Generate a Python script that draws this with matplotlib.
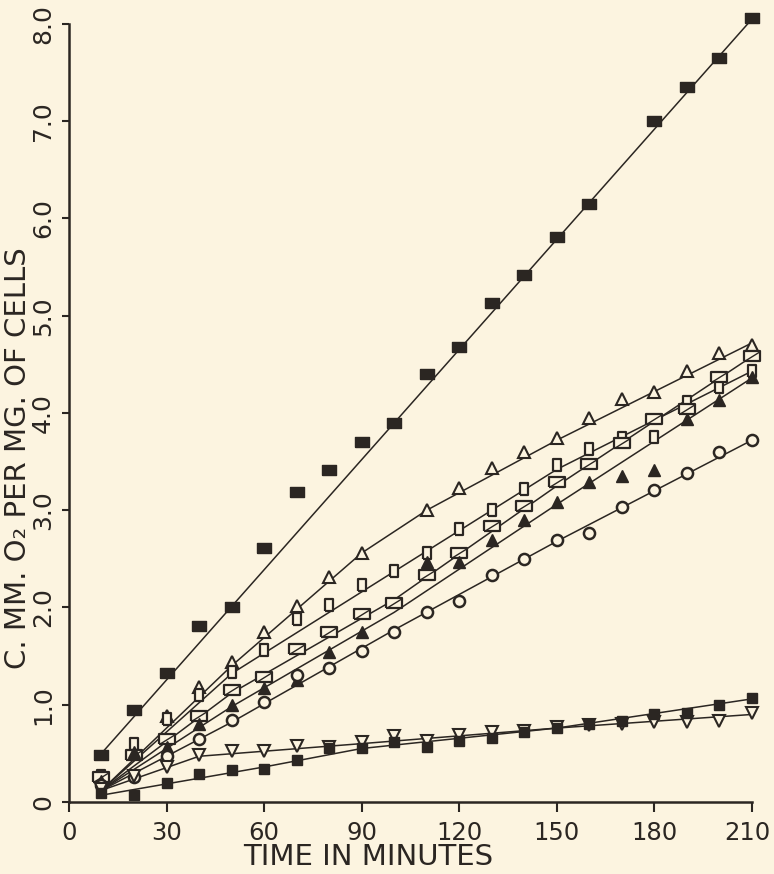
import matplotlib
matplotlib.use("Agg")
import matplotlib.pyplot as plt
import matplotlib.transforms as mtransforms
from matplotlib.path import Path

# colours
bg = "#fcf4e0"
ink = "#2b2622"

plt.rcParams['font.family'] = ['DejaVu Sans']

# time points (minutes)
t_all = [10, 20, 30, 40, 50, 60, 70, 80, 90, 100, 110, 120, 130, 140, 150,
         160, 170, 180, 190, 200, 210]

# large filled squares (top series)
t_top = [10, 20, 30, 40, 50, 60, 70, 80, 90, 100, 110, 120, 130, 140, 150,
         160, 180, 190, 200, 210]
y_top = [0.48, 0.95, 1.33, 1.81, 2.01, 2.61, 3.19, 3.41, 3.70, 3.90, 4.40,
         4.68, 5.13, 5.42, 5.81, 6.15, 7.00, 7.35, 7.65, 8.06]
line_top_t = [10, 210]
line_top_y = [0.50, 8.05]

# open triangles
t_tri = [10, 20, 30, 40, 50, 60, 70, 80, 90, 110, 120, 130, 140, 150, 160,
         170, 180, 190, 200, 210]
y_tri = [0.27, 0.55, 0.88, 1.18, 1.44, 1.75, 2.02, 2.31, 2.56, 3.00, 3.23,
         3.43, 3.60, 3.74, 3.95, 4.14, 4.22, 4.43, 4.62, 4.70]
line_tri_t = [10, 50, 90, 110, 150, 210]
line_tri_y = [0.12, 1.40, 2.56, 3.00, 3.72, 4.72]

# small tall open rectangles
y_small = [0.27, 0.60, 0.85, 1.10, 1.34, 1.56, 1.88, 2.03, 2.23, 2.37, 2.56,
           2.81, 3.00, 3.22, 3.46, 3.63, 3.74, 3.75, 4.11, 4.27, 4.43]
line_small_t = [10, 50, 100, 150, 210]
line_small_y = [0.12, 1.32, 2.37, 3.42, 4.43]

# wide open rectangles (with diagonal)
y_wide = [0.26, 0.48, 0.65, 0.88, 1.15, 1.28, 1.57, 1.75, 1.93, 2.05, 2.33,
          2.56, 2.84, 3.04, 3.29, 3.48, 3.69, 3.94, 4.04, 4.37, 4.59]
line_wide_t = [10, 50, 100, 150, 210]
line_wide_y = [0.12, 1.12, 2.08, 3.25, 4.58]

# filled triangles
t_ftri = [10, 20, 30, 40, 50, 60, 70, 80, 90, 110, 120, 130, 140, 150, 160,
          170, 180, 190, 200, 210]
y_ftri = [0.22, 0.51, 0.57, 0.80, 1.00, 1.17, 1.25, 1.54, 1.75, 2.47, 2.47,
          2.69, 2.90, 3.08, 3.29, 3.35, 3.41, 3.94, 4.13, 4.37]
line_ftri_t = [10, 50, 100, 150, 210]
line_ftri_y = [0.12, 0.98, 1.95, 3.06, 4.36]

# open circles
y_circ = [0.17, 0.26, 0.47, 0.65, 0.84, 1.03, 1.31, 1.38, 1.55, 1.75, 1.95,
          2.07, 2.33, 2.50, 2.69, 2.77, 3.03, 3.21, 3.38, 3.60, 3.72]
line_circ_t = [10, 50, 100, 150, 210]
line_circ_y = [0.12, 0.82, 1.77, 2.68, 3.72]

# open inverted triangles
y_dtri = [0.13, 0.27, 0.36, 0.48, 0.52, 0.52, 0.58, 0.57, 0.62, 0.68, 0.63,
          0.69, 0.72, 0.73, 0.77, 0.79, 0.80, 0.82, 0.82, 0.83, 0.92]
line_dtri_t = [10, 40, 90, 150, 210]
line_dtri_y = [0.12, 0.47, 0.60, 0.76, 0.90]

# small filled squares (bottom series)
y_fsq = [0.09, 0.07, 0.20, 0.29, 0.33, 0.34, 0.43, 0.55, 0.55, 0.62, 0.57,
         0.63, 0.66, 0.72, 0.76, 0.80, 0.83, 0.90, 0.91, 1.00, 1.07]
line_fsq_t = [10, 60, 90, 150, 210]
line_fsq_y = [0.07, 0.36, 0.55, 0.76, 1.06]

x_ticks = [0, 30, 60, 90, 120, 150, 180, 210]
x_ticklabels = ["0", "30", "60", "90", "120", "150", "180", "210"]
y_ticks = [0, 1, 2, 3, 4, 5, 6, 7, 8]
y_ticklabels = ["0", "1.0", "2.0", "3.0", "4.0", "5.0", "6.0", "7.0", "8.0"]

# marker shapes
big_rect = [(-1, -0.72), (1, -0.72), (1, 0.72), (-1, 0.72), (-1, -0.72)]
tall_rect = [(-0.64, -1), (0.64, -1), (0.64, 1), (-0.64, 1), (-0.64, -1)]
wide_rect = [(-1, -0.62), (1, -0.62), (1, 0.62), (-1, 0.62), (-1, -0.62)]
diag = Path([(-1, -0.62), (1, 0.62)], [Path.MOVETO, Path.LINETO])

fig = plt.figure(figsize=(7.74, 8.74), dpi=100, facecolor=bg)
ax = fig.add_axes([0.0891, 0.0824, 0.8824, 0.8902], facecolor=bg)

lw = 1.1
# lines
for lt, ly in [(line_top_t, line_top_y), (line_tri_t, line_tri_y),
               (line_small_t, line_small_y), (line_wide_t, line_wide_y),
               (line_ftri_t, line_ftri_y), (line_circ_t, line_circ_y),
               (line_dtri_t, line_dtri_y), (line_fsq_t, line_fsq_y)]:
    ax.plot(lt, ly, color=ink, lw=lw, zorder=2, clip_on=False)

mk = dict(ls="none", clip_on=False, zorder=3)
ax.plot(t_top, y_top, marker=big_rect, ms=10.5, mfc=ink, mec=ink, **mk)
ax.plot(t_tri, y_tri, marker="^", ms=8, mfc=bg, mec=ink, mew=1.5, **mk)
ax.plot(t_all, y_small, marker=tall_rect, ms=9, mfc=bg, mec=ink, mew=1.6, **mk)
ax.plot(t_all, y_wide, marker=wide_rect, ms=11.5, mfc=bg, mec=ink, mew=1.6, **mk)
ax.plot(t_all, y_wide, marker=diag, ms=11.5, mec=ink, mew=1.0, **mk)
ax.plot(t_ftri, y_ftri, marker="^", ms=8, mfc=ink, mec=ink, **mk)
ax.plot(t_all, y_circ, marker="o", ms=8, mfc=bg, mec=ink, mew=1.8, **mk)
ax.plot(t_all, y_dtri, marker="v", ms=8, mfc=bg, mec=ink, mew=1.5, **mk)
ax.plot(t_all, y_fsq, marker="s", ms=7.5, mfc=ink, mec=ink, **mk)

ax.set_xlim(0, 210)
ax.set_ylim(0, 8.0)
for s in ["top", "right"]:
    ax.spines[s].set_visible(False)
for s in ["left", "bottom"]:
    ax.spines[s].set_linewidth(1.8)
    ax.spines[s].set_color(ink)

ax.set_xticks(x_ticks)
ax.set_xticklabels(x_ticklabels, fontsize=17.5, color=ink)
ax.set_yticks(y_ticks)
ax.set_yticklabels(y_ticklabels, fontsize=18, color=ink, rotation=90,
                   va="center")
ax.tick_params(axis="x", direction="out", length=7, width=1.5, pad=7,
               colors=ink)
ax.tick_params(axis="y", direction="out", length=5, width=1.5, pad=5,
               colors=ink)

# nudge the last x tick label so it stays inside the figure
last = ax.get_xticklabels()[-1]
last.set_transform(last.get_transform() +
                   mtransforms.ScaledTranslation(-5 / 100, 0, fig.dpi_scale_trans))

ax.set_xlabel("TIME IN MINUTES", fontsize=21, color=ink, va="center")
ax.xaxis.set_label_coords(0.438, -0.071)
ax.set_ylabel("C. MM. O₂ PER MG. OF CELLS", fontsize=21, color=ink,
              va="center")
ax.yaxis.set_label_coords(-0.075, 0.442)

fig.savefig("out.png", dpi=100, facecolor=bg)
